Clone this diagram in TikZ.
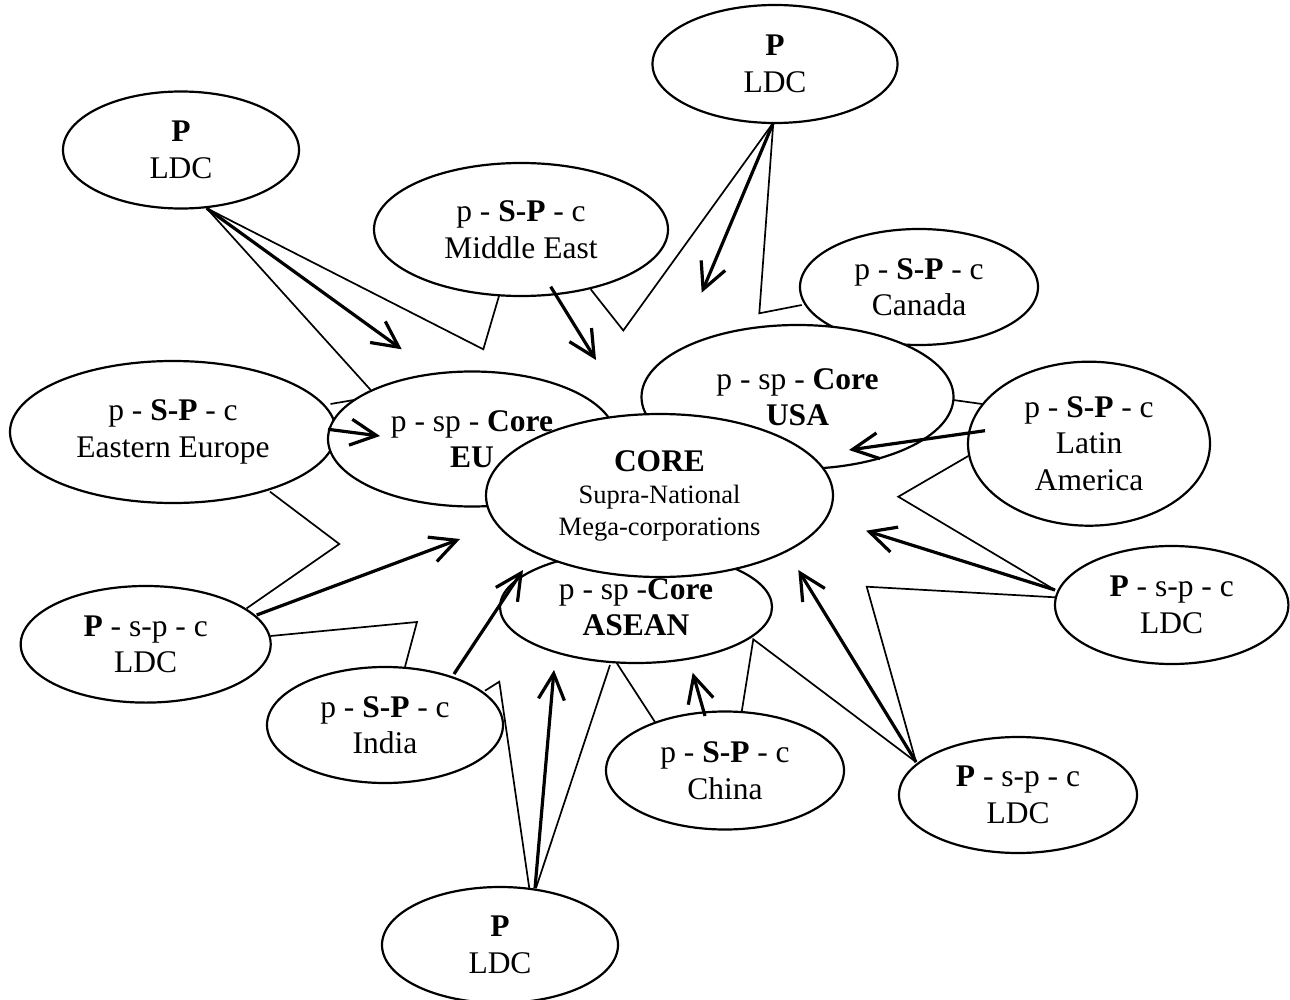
\documentclass[tikz,border=0pt]{standalone}
\usepackage{fontspec}
\setmainfont{Liberation Serif}
\usetikzlibrary{shapes.geometric,arrows.meta,calc}
\pgfdeclarelayer{paper}
\pgfdeclarelayer{links}
\pgfsetlayers{paper,links,main}

\begin{document}
\begin{tikzpicture}[x=0.5pt,y=-0.5pt,
  blob/.style={ellipse, draw, fill=white, line width=1.1pt, inner sep=0pt,
    align=center, font=\fontsize{15.75}{18.25}\selectfont},
  rad/.style 2 args={minimum width=#1pt, minimum height=#2pt},
  tie/.style={line width=0.85pt, line join=miter},
  push/.style={line width=1.6pt, -{Straight Barb[length=13pt,width=13pt]}}
]
\useasboundingbox (0,0) rectangle (1290,1000);
\begin{pgfonlayer}{paper}
\fill[white] (0,0) rectangle (1290,1000);
\end{pgfonlayer}

% ---- ellipses (later ones lie on top of earlier ones) ----
\node[blob, rad={118}{58.5}]   (tl)    at (181,150)     {\textbf{P}\\LDC};
\node[blob, rad={122.5}{59}]   (top)   at (775,64)      {\textbf{P}\\LDC};
\node[blob, rad={147}{66.5}]   (me)    at (521,229.5)   {p - \textbf{S-P} - c\\Middle East};
\node[blob, rad={119}{58}]     (can)   at (919,287)     {p - \textbf{S-P} - c\\Canada};
\node[blob, rad={156}{72}]     (usa)   at (797.5,397)   {p - sp - \textbf{Core}\\\textbf{USA}};
\node[blob, rad={163}{71}]     (ee)    at (173,432)     {p - \textbf{S-P} - c\\Eastern Europe};
\node[blob, rad={144}{67.5}]   (eu)    at (472,439)     {p - sp - \textbf{Core}\\\textbf{EU}};
\node[blob, rad={136}{56}]     (asean) at (636,607)     {p - sp -\textbf{Core}\\\textbf{ASEAN}};
\node[blob, rad={173.5}{81.5}] (core)  at (659.5,495.5)
  {\textbf{CORE}\\[-2pt]
   \fontsize{13.25}{15.5}\selectfont Supra-National\\[-2.5pt]
   \fontsize{13.25}{15.5}\selectfont Mega-corporations};
\node[blob, rad={121}{82}]     (lat)   at (1089,443.7)  {p - \textbf{S-P} - c\\Latin\\America};
\node[blob, rad={125}{58.3}]   (ldcl)  at (145.7,644.3) {\textbf{P} - s-p - c\\LDC};
\node[blob, rad={118}{58}]     (india) at (385,725)     {p - \textbf{S-P} - c\\India};
\node[blob, rad={119}{59}]     (china) at (725,770.5)   {p - \textbf{S-P} - c\\China};
\node[blob, rad={116.7}{59}]   (ldcr)  at (1171.7,605)  {\textbf{P} - s-p - c\\LDC};
\node[blob, rad={119}{58}]     (ldcbr) at (1018,795)    {\textbf{P} - s-p - c\\LDC};
\node[blob, rad={118}{58}]     (bot)   at (500,945)     {\textbf{P}\\LDC};

% ---- bend points of the thin links ----
\coordinate (v2)  at (483.3,349.3);
\coordinate (v3)  at (623.3,330.5);
\coordinate (v4)  at (759.3,313.3);
\coordinate (v6)  at (898.3,496.7);
\coordinate (v7)  at (866.7,586.7);
\coordinate (v9)  at (753.3,639.3);
\coordinate (v12) at (499.3,681.7);
\coordinate (v13) at (417,622);
\coordinate (v14) at (339.3,544);

% ---- arrow heads ----
\coordinate (t1)  at (401.7,349.3);
\coordinate (t2)  at (596,360);
\coordinate (t3)  at (701.7,292.7);
\coordinate (t4)  at (849,450);
\coordinate (t5)  at (380,436);
\coordinate (t6)  at (460,539);
\coordinate (t7)  at (523,570);
\coordinate (t8)  at (554,670);
\coordinate (t9)  at (692.7,672.7);
\coordinate (t10) at (798.3,570);
\coordinate (t11) at (866,530.7);

% ---- thin links, behind the ellipses ----
\begin{pgfonlayer}{links}
\draw[tie] ($(tl)+(25.7,58.3)$) -- ($(eu)+(-101.3,-49)$);
\draw[tie] ($(tl)+(25.7,58.3)$) -- (v2) -- ($(me)+(-22,66.5)$);
\draw[tie] ($(me)+(69.7,59.8)$) -- (v3) -- ($(top)+(-1.7,58.7)$);
\draw[tie] ($(top)+(-1.7,58.7)$) -- (v4) -- ($(can)+(-117.3,18)$);
\draw[tie] ($(ee)+(157.5,-28)$) -- ($(eu)+(-115.3,-39.5)$);
\draw[tie] ($(usa)+(155.8,3)$) -- ($(lat)+(-107,-39.7)$);
\draw[tie] ($(lat)+(-120.7,12.3)$) -- (v6) -- ($(ldcr)+(-116.7,-15)$);
\draw[tie] ($(ldcr)+(-116.7,-7.7)$) -- (v7) -- ($(ldcbr)+(-102,-33)$);
\draw[tie] ($(china)+(16.7,-58.8)$) -- (v9) -- ($(ldcbr)+(-102,-33)$);
\draw[tie] ($(asean)+(-26,58)$) -- ($(bot)+(36,-57)$);
\draw[tie] ($(asean)+(-19.3,56)$) -- ($(china)+(-70,-48.5)$);
\draw[tie] ($(india)+(100,-34.3)$) -- (v12) -- ($(bot)+(29.3,-56.7)$);
\draw[tie] ($(india)+(20,-58.3)$) -- (v13) -- ($(ldcl)+(124.8,-8.3)$);
\draw[tie] ($(ldcl)+(101,-36)$) -- (v14) -- ($(ee)+(97,59.7)$);
\end{pgfonlayer}

% ---- thick arrows, on top ----
\draw[push] ($(tl)+(25.7,58.3)$) -- (t1);
\draw[push] ($(me)+(29.7,57.2)$) -- (t2);
\draw[push] ($(top)+(-1.7,58.7)$) -- (t3);
\draw[push] ($(lat)+(-104,-13)$) -- (t4);
\draw[push] ($(ee)+(155,-2.7)$) -- (t5);
\draw[push] ($(ldcl)+(111,-29.3)$) -- (t6);
\draw[push] ($(india)+(69,-51)$) -- (t7);
\draw[push] ($(bot)+(35,-56.7)$) -- (t8);
\draw[push] ($(china)+(-20,-54.5)$) -- (t9);
\draw[push] ($(ldcbr)+(-102,-33)$) -- (t10);
\draw[push] ($(ldcr)+(-116.7,-15)$) -- (t11);
\end{tikzpicture}
\end{document}
